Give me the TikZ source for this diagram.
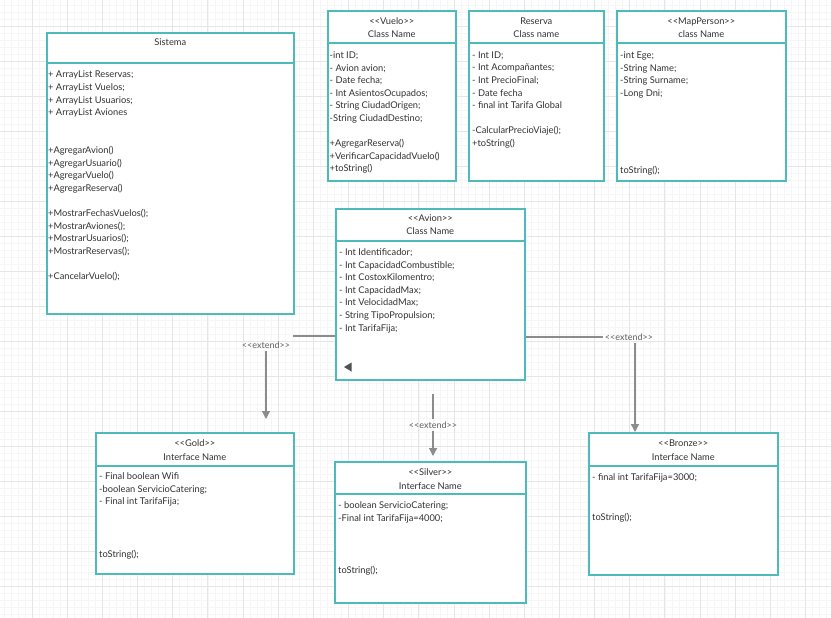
\documentclass[tikz,border=0pt]{standalone}
\usepackage{fontspec}
\setmainfont{Lato}
\usetikzlibrary{arrows.meta}
\definecolor{boxline}{RGB}{78,187,187}
\definecolor{connline}{RGB}{140,140,140}
\definecolor{textgray}{RGB}{50,50,50}
\definecolor{labelgray}{RGB}{95,95,95}
\definecolor{gridmajor}{RGB}{230,230,230}
\definecolor{gridminor}{RGB}{246,246,246}

\begin{document}
\begin{tikzpicture}
  [x=1pt,y=-1pt,
   every node/.style={text=textgray,font=\fontsize{9.3}{12.6}\selectfont},
   umlbox/.style={draw=boxline,line width=1.6pt,fill=white,anchor=north west,inner sep=0pt},
   divider/.style={draw=boxline,line width=1.3pt},
   headtext/.style={align=center,inner sep=0pt,font=\fontsize{9.3}{13.5}\selectfont},
   bodytext/.style={align=left,anchor=north west,inner sep=0pt},
   extlabel/.style={text=labelgray,inner sep=2pt,font=\fontsize{9}{10}\selectfont},
   assoc/.style={draw=connline,line width=1.3pt},
   extend/.style={assoc,-{Triangle[length=8pt,width=8pt]}},
   majorline/.style={draw=gridmajor,line width=0.9pt},
   minorline/.style={draw=gridminor,line width=0.6pt}]
  \useasboundingbox[fill=white] (0,0) rectangle (831,618);

  % background grid
  \foreach \i in {0,...,119}
    \draw[minorline] ({-3+7.03*\i},0) -- ++(0,618);
  \foreach \i in {0,...,89}
    \draw[minorline] (0,{-9+7*\i}) -- ++(831,0);
  \foreach \i in {0,...,24}
    \draw[majorline] ({-3+35.15*\i},0) -- ++(0,618);
  \foreach \i in {0,...,18}
    \draw[majorline] (0,{-9+35*\i}) -- ++(831,0);

  % classes
  \node[umlbox, minimum width=247, minimum height=281] (sistema) at (46,32) {};
  \node[umlbox, minimum width=128, minimum height=170] (vuelo) at (327,10) {};
  \node[umlbox, minimum width=135, minimum height=170] (reserva) at (468,10) {};
  \node[umlbox, minimum width=169, minimum height=170] (mapperson) at (616,10) {};
  \node[umlbox, minimum width=189, minimum height=171] (avion) at (335,208) {};
  \node[umlbox, minimum width=198, minimum height=141] (gold) at (95,432) {};
  \node[umlbox, minimum width=191, minimum height=141] (silver) at (334,461) {};
  \node[umlbox, minimum width=189, minimum height=142] (bronze) at (588,432) {};

  \draw[divider] ([yshift=-31pt]sistema.north west) -- ([yshift=-31pt]sistema.north east);
  \foreach \n in {vuelo,reserva,mapperson,avion,silver}
    \draw[divider] ([yshift=-33pt]\n.north west) -- ([yshift=-33pt]\n.north east);
  \foreach \n in {gold,bronze}
    \draw[divider] ([yshift=-34pt]\n.north west) -- ([yshift=-34pt]\n.north east);

  % headers
  \node[headtext] at ([yshift=-10pt]sistema.north) {Sistema};
  \node[headtext] at ([yshift=-17.5pt]vuelo.north) {<{}<Vuelo>{}>\\Class Name};
  \node[headtext] at ([yshift=-17.5pt]reserva.north) {Reserva\\Class name};
  \node[headtext] at ([yshift=-17.5pt]mapperson.north) {<{}<MapPerson>{}>\\class Name};
  \node[headtext] at ([yshift=-16.5pt]avion.north) {<{}<Avion>{}>\\Class Name};
  \node[headtext] at ([yshift=-18pt]gold.north) {<{}<Gold>{}>\\Interface Name};
  \node[headtext] at ([yshift=-18pt]silver.north) {<{}<Silver>{}>\\Interface Name};
  \node[headtext] at ([yshift=-18pt]bronze.north) {<{}<Bronze>{}>\\Interface Name};

  % members
  \node[bodytext] at (48,71) {+ ArrayList Reservas;\\+ ArrayList Vuelos;\\+ ArrayList Usuarios;\\+ ArrayList Aviones\\[25.2pt]
    +AgregarAvion()\\+AgregarUsuario()\\+AgregarVuelo()\\+AgregarReserva()\\[12.6pt]
    +MostrarFechasVuelos();\\+MostrarAviones();\\+MostrarUsuarios();\\+MostrarReservas();\\[12.6pt]
    +CancelarVuelo();};
  \node[bodytext] at (329.5,51.5) {-int ID;\\- Avion avion;\\- Date fecha;\\- Int AsientosOcupados;\\- String CiudadOrigen;\\-String CiudadDestino;\\[12.6pt]
    +AgregarReserva()\\+VerificarCapacidadVuelo()\\+toString()};
  \node[bodytext] at (472,51.5) {- Int ID;\\- Int Acompañantes;\\- Int PrecioFinal;\\- Date fecha\\- final int Tarifa Global\\[12.6pt]
    -CalcularPrecioViaje();\\+toString()};
  \node[bodytext] at (620,51.5) {-int Ege;\\-String Name;\\-String Surname;\\-Long Dni;};
  \node[bodytext] at (620,166.5) {toString();};
  \node[bodytext] at (339,248.5) {- Int Identificador;\\- Int CapacidadCombustible;\\- Int CostoxKilomentro;\\- Int CapacidadMax;\\- Int VelocidadMax;\\- String TipoPropulsion;\\- Int TarifaFija;};
  \node[bodytext] at (99,472.5) {- Final boolean Wifi\\-boolean ServicioCatering;\\- Final int TarifaFija;};
  \node[bodytext] at (99,550.5) {toString();};
  \node[bodytext] at (338,501.5) {- boolean ServicioCatering;\\-Final int TarifaFija=4000;};
  \node[bodytext] at (338,566.5) {toString();};
  \node[bodytext] at (592,473.5) {- final int TarifaFija=3000;};
  \node[bodytext] at (592,513.5) {toString();};

  \fill[textgray!85] (344,367) -- (351.5,362.5) -- (351.5,371.5) -- cycle;

  % extend connectors
  \node[extlabel] (extL) at (266,345) {<{}<extend>{}>};
  \node[extlabel] (extM) at (433,425) {<{}<extend>{}>};
  \node[extlabel] (extR) at (629,337) {<{}<extend>{}>};
  \coordinate (sisEdge) at (293,336);

  \draw[assoc] (avion.west |- sisEdge) -- (sisEdge);
  \draw[extend, shorten >=13pt] (extL.south) -- (extL.south |- gold.north);
  \draw[assoc] ([yshift=-13pt]avion.south -| extM) -- (extM.north);
  \draw[extend, shorten >=5pt] (extM.south) -- (extM.south |- silver.north);
  \draw[assoc] (avion.east |- extR) -- (extR.west);
  \draw[extend] ([xshift=6pt]extR.south) -- ([xshift=6pt]extR.south |- bronze.north);

\end{tikzpicture}
\end{document}
